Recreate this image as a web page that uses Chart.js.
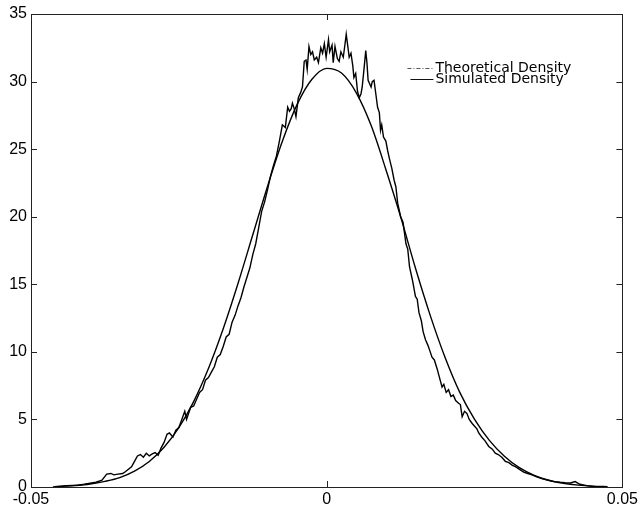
<!DOCTYPE html>
<html>
<head>
<meta charset="utf-8">
<script src="https://cdn.jsdelivr.net/npm/chart.js@4.4.1/dist/chart.umd.min.js"></script>
<style>
  html, body { margin: 0; padding: 0; background: #fff; }
  canvas { display: block; }
</style>
</head>
<body>
<canvas id="density" width="641" height="508"></canvas>
<script>
/* density plot: theoretical vs simulated */

const xTicks = [-0.05, 0, 0.05];
const xTickLabels = ["-0.05", "0", "0.05"];
const yTicks = [0, 5, 10, 15, 20, 25, 30, 35];

const seriesNames = ["Theoretical Density", "Simulated Density"];

// theoretical curve
const theoX = [-0.046, -0.0425, -0.04, -0.0375, -0.035, -0.0325, -0.03, -0.0275, -0.025, -0.0225,
  -0.02, -0.0175, -0.015, -0.0125, -0.01, -0.0075, -0.005, -0.0025, 0, 0.0025,
  0.005, 0.0075, 0.01, 0.0125, 0.015, 0.0175, 0.02, 0.0225, 0.025, 0.0275,
  0.03, 0.0325, 0.035, 0.0375, 0.04, 0.0425, 0.045, 0.0475];
const theoY = [0.03, 0.11, 0.22, 0.42, 0.70, 1.18, 1.89, 2.94, 4.39, 6.32,
  8.77, 11.71, 15.06, 18.66, 22.26, 25.58, 28.31, 30.17, 30.98, 30.63,
  29.17, 26.76, 23.5, 20.0, 16.2, 12.7, 9.6, 7.0, 5.0, 3.45,
  2.3, 1.45, 0.88, 0.5, 0.28, 0.14, 0.06, 0.02];

// simulated (noisy) curve
const simX = [-0.0463, -0.045, -0.044, -0.043, -0.042, -0.041, -0.04, -0.039, -0.038, -0.0372,
  -0.0365, -0.036, -0.0353, -0.0345, -0.034, -0.033, -0.0325, -0.032, -0.0315, -0.031,
  -0.0305, -0.03, -0.0295, -0.029, -0.0285, -0.028, -0.0275, -0.027, -0.0266, -0.026,
  -0.0255, -0.025, -0.0245, -0.024, -0.0237, -0.023, -0.0225, -0.022, -0.0215, -0.021,
  -0.0205, -0.02, -0.0195, -0.019, -0.0185, -0.018, -0.0175, -0.017, -0.0165, -0.016,
  -0.0155, -0.015, -0.0145, -0.014, -0.0135, -0.013, -0.0125, -0.012, -0.0115, -0.011,
  -0.0105, -0.01, -0.0095, -0.009, -0.0085, -0.008, -0.0075, -0.007, -0.0066, -0.0063,
  -0.006, -0.0058, -0.0055, -0.0052, -0.0048, -0.0044, -0.0041, -0.0038, -0.0035, -0.0033,
  -0.003, -0.0027, -0.0024, -0.0021, -0.0017, -0.0014, -0.001, -0.0007, -0.0004, -0.0001,
  0.0003, 0.0005, 0.0009, 0.0011, 0.0014, 0.0018, 0.0021, 0.0024, 0.0028, 0.0031,
  0.0033, 0.0036, 0.0038, 0.0041, 0.0044, 0.0046, 0.0049, 0.0052, 0.0055, 0.0058,
  0.006, 0.0063, 0.0066, 0.0068, 0.007, 0.0075, 0.0077, 0.008, 0.0083, 0.0086,
  0.0089, 0.0091, 0.0093, 0.0096, 0.01, 0.0103, 0.0106, 0.011, 0.0114, 0.0117,
  0.012, 0.0125, 0.0129, 0.0134, 0.0137, 0.014, 0.0145, 0.015, 0.0153, 0.0156,
  0.016, 0.0163, 0.0167, 0.0171, 0.0175, 0.0178, 0.0182, 0.0187, 0.019, 0.0195,
  0.0198, 0.0202, 0.0206, 0.021, 0.0214, 0.0218, 0.0223, 0.0226, 0.0229, 0.0233,
  0.0237, 0.0241, 0.0246, 0.025, 0.0254, 0.0257, 0.0262, 0.0268, 0.0274, 0.028,
  0.0285, 0.029, 0.0296, 0.0302, 0.0308, 0.0314, 0.0319, 0.0326, 0.0333, 0.034,
  0.0347, 0.0355, 0.0365, 0.0375, 0.0385, 0.0395, 0.0403, 0.0412, 0.042, 0.0428,
  0.044, 0.045, 0.046];
const simY = [0, 0.05, 0.09, 0.12, 0.14, 0.2, 0.28, 0.35, 0.5, 0.95,
  1.0, 0.9, 0.95, 1.0, 1.15, 1.5, 1.9, 2.3, 2.4, 2.2,
  2.5, 2.3, 2.45, 2.55, 2.35, 2.9, 3.3, 3.9, 4.0, 3.7,
  4.2, 4.4, 5.0, 5.6, 5.0, 5.9, 6.0, 6.5, 7.0, 7.2,
  7.9, 8.1, 8.5, 8.9, 9.6, 9.8, 10.4, 11.1, 11.3, 12.2,
  12.7, 13.4, 14.0, 14.8, 15.5, 16.2, 17.2, 18.0, 19.2, 20.4,
  21.1, 22.0, 23.0, 23.8, 24.5, 25.6, 26.8, 26.6, 28.1, 27.8,
  28.0, 28.4, 28.0, 27.4, 28.8, 29.2, 29.6, 31.5, 31.6, 30.9,
  32.6, 32.0, 32.2, 31.6, 31.8, 31.4, 32.5, 32.1, 32.8, 31.8,
  33.1, 32.2, 32.7, 31.4, 32.6, 31.7, 31.5, 32.2, 31.8, 32.8,
  33.5, 32.5, 31.8, 32.1, 31.2, 30.3, 30.6, 29.3, 28.8, 29.1,
  29.6, 30.9, 32.3, 31.4, 30.1, 29.6, 30.0, 30.1, 29.1, 28.1,
  27.7, 26.4, 26.8, 25.9, 25.6, 24.9, 24.3, 23.6, 22.7, 22.2,
  21.0, 20.0, 19.6, 18.0, 17.6, 16.3, 15.3, 14.1, 13.9, 12.9,
  12.3, 11.5, 10.9, 10.5, 10.0, 9.6, 9.4, 8.7, 8.2, 7.4,
  7.6, 7.0, 7.2, 6.7, 6.8, 6.4, 6.2, 6.1, 5.2, 5.6,
  5.45, 5.0, 4.7, 4.5, 4.3, 4.0, 3.7, 3.4, 3.0, 2.8,
  2.5, 2.4, 2.2, 1.9, 1.8, 1.6, 1.5, 1.3, 1.1, 1.0,
  0.9, 0.75, 0.6, 0.5, 0.4, 0.35, 0.32, 0.3, 0.4, 0.2,
  0.1, 0.05, 0];

const toPoints = (xs, ys) => xs.map((x, i) => ({ x: x, y: ys[i] }));

// box round the plot + inward ticks, matlab style
const boxPlugin = {
  id: "box",
  afterDraw(chart) {
    const ctx = chart.ctx;
    const a = chart.chartArea;
    const xs = chart.scales.x, ys = chart.scales.y;
    ctx.save();
    ctx.strokeStyle = "#222";
    ctx.lineWidth = 1;
    ctx.strokeRect(Math.round(a.left) + 0.5, Math.round(a.top) + 0.5,
      Math.round(a.right - a.left), Math.round(a.bottom - a.top));
    ctx.beginPath();
    yTicks.forEach(v => {
      const p = Math.round(ys.getPixelForValue(v)) + 0.5;
      ctx.moveTo(a.left, p); ctx.lineTo(a.left + 6, p);
      ctx.moveTo(a.right, p); ctx.lineTo(a.right - 6, p);
    });
    xTicks.forEach(v => {
      const p = Math.round(xs.getPixelForValue(v)) + 0.5;
      ctx.moveTo(p, a.bottom); ctx.lineTo(p, a.bottom - 6);
      ctx.moveTo(p, a.top); ctx.lineTo(p, a.top + 6);
    });
    ctx.stroke();

    // legend
    const lx = a.right - 215, ly = a.top + 54;
    ctx.font = "14px 'DejaVu Sans'";
    ctx.fillStyle = "#000";
    ctx.textBaseline = "middle";
    ctx.textAlign = "left";
    ctx.strokeStyle = "#555";
    ctx.setLineDash([4, 2, 1, 2]);
    ctx.beginPath(); ctx.moveTo(lx, ly + 0.5); ctx.lineTo(lx + 26, ly + 0.5); ctx.stroke();
    ctx.setLineDash([]);
    ctx.strokeStyle = "#111";
    ctx.beginPath(); ctx.moveTo(lx + 3, ly + 11.5); ctx.lineTo(lx + 26, ly + 11.5); ctx.stroke();
    ctx.fillText(seriesNames[0], lx + 28, ly);
    ctx.fillText(seriesNames[1], lx + 28, ly + 11);
    ctx.restore();
  }
};

new Chart(document.getElementById("density"), {
  type: "scatter",
  data: {
    datasets: [
      {
        label: seriesNames[0],
        data: toPoints(theoX, theoY),
        showLine: true,
        borderColor: "#000",
        borderWidth: 1.4,
        pointRadius: 0,
        cubicInterpolationMode: "monotone"
      },
      {
        label: seriesNames[1],
        data: toPoints(simX, simY),
        showLine: true,
        borderColor: "#000",
        borderWidth: 1.4,
        pointRadius: 0,
        tension: 0
      }
    ]
  },
  options: {
    responsive: false,
    animation: false,
    layout: { padding: { top: 14, right: 17, left: 0, bottom: 0 } },
    plugins: { legend: { display: false }, tooltip: { enabled: false } },
    scales: {
      x: {
        type: "linear",
        min: -0.05, max: 0.05,
        grid: { display: false, drawTicks: false },
        border: { display: false },
        afterBuildTicks: axis => { axis.ticks = xTicks.map(v => ({ value: v })); },
        afterFit: axis => { axis.height = 21; },
        ticks: {
          padding: 3,
          color: "#000",
          font: { family: "'Liberation Sans', Arial, sans-serif", size: 16 },
          maxRotation: 0,
          callback: (v, i) => xTickLabels[i]
        }
      },
      y: {
        min: 0, max: 35,
        grid: { display: false, drawTicks: false },
        border: { display: false },
        afterBuildTicks: axis => { axis.ticks = yTicks.map(v => ({ value: v })); },
        afterFit: axis => { axis.width = 31; },
        ticks: {
          padding: 4,
          color: "#000",
          font: { family: "'Liberation Sans', Arial, sans-serif", size: 16 },
          callback: v => String(v)
        }
      }
    }
  },
  plugins: [boxPlugin]
});
</script>
</body>
</html>
